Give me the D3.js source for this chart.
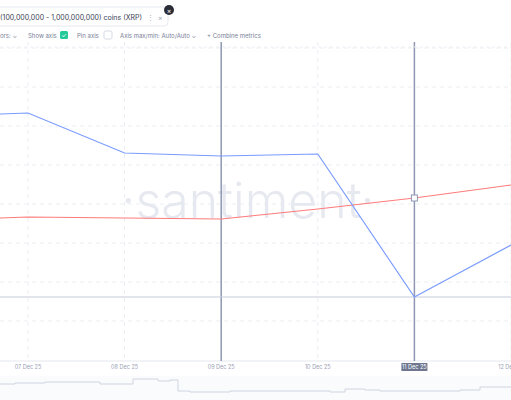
<!DOCTYPE html>
<html><head><meta charset="utf-8">
<script src="https://cdn.jsdelivr.net/npm/d3@7"></script>
<style>body{margin:0;background:#fff;font-family:Inter,"Noto Sans",sans-serif}</style>
</head><body><div id="chart"></div>
<script>
const dates = ["06 Dec 25","07 Dec 25","08 Dec 25","09 Dec 25","10 Dec 25","11 Dec 25","12 Dec 25"];
const dayIndex = [-0.29, 0, 1, 2, 3, 4, 5];
const blueValues = [246, 247, 207, 204, 206, 63, 115];
const redValues = [142, 143, 142, 141, 151, 162, 175];
const gridValues = [312, 273, 234, 195, 156, 117, 78, 39];
const miniX = [0, 15, 28, 45, 85, 100, 130, 133, 157, 158, 170, 178, 190, 230, 330, 345, 365, 380, 460, 480, 511];
const miniY = [7, 6, 6, 5, 5, 7, 7, 2, 2, 4, 3, 14, 15, 14, 15, 12, 13, 14, 13, 10, 10];

const W = 511, H = 400;
const svg = d3.select("#chart").append("svg").attr("width", W).attr("height", H);

const x = d3.scaleLinear().domain([0, 5]).range([28, 511]);
const y = d3.scaleLinear().domain([0, 320]).range([360, 40]);

// plot background
svg.append("rect").attr("x", 0).attr("y", 42).attr("width", W).attr("height", 320).attr("fill", "#fff");

// grid
svg.selectAll(".hg").data(gridValues).enter().append("line")
  .attr("x1", 0).attr("x2", W).attr("y1", d => y(d)).attr("y2", d => y(d))
  .attr("stroke", "#eceef3").attr("stroke-dasharray", "4,4");
svg.selectAll(".vg").data([0, 1, 3, 5]).enter().append("line")
  .attr("x1", d => x(d)).attr("x2", d => x(d)).attr("y1", 42).attr("y2", 360)
  .attr("stroke", "#eceef3").attr("stroke-dasharray", "4,4");

// watermark
svg.append("text").attr("x", 248).attr("y", 218).attr("text-anchor", "middle")
  .attr("font-size", 50).attr("fill", "#e6e9f0").attr("font-family", "Inter,sans-serif")
  .attr("font-weight", 300).text("·santiment·");

// x axis line
svg.append("line").attr("x1", 0).attr("x2", W).attr("y1", 361).attr("y2", 361).attr("stroke", "#e4e7ee");

// crosshair / markers
[2, 4].forEach(d => svg.append("line").attr("x1", x(d)).attr("x2", x(d)).attr("y1", 42).attr("y2", 361)
  .attr("stroke", "#8f97b3").attr("stroke-width", 1.5));
svg.append("line").attr("x1", 0).attr("x2", W).attr("y1", y(blueValues[5])).attr("y2", y(blueValues[5]))
  .attr("stroke", "#c7ccdc").attr("stroke-width", 1.2);

const line = vals => d3.line().x((d, i) => x(dayIndex[i])).y(d => y(d))(vals);
svg.append("path").attr("d", line(redValues)).attr("fill", "none").attr("stroke", "#ff7b7b").attr("stroke-width", 1.2);
svg.append("path").attr("d", line(blueValues)).attr("fill", "none").attr("stroke", "#7a9bff").attr("stroke-width", 1.2);

svg.append("rect").attr("x", x(4) - 3).attr("y", y(redValues[5]) - 3).attr("width", 6).attr("height", 6)
  .attr("fill", "#fff").attr("stroke", "#8f97b3");

// x tick labels
svg.selectAll(".tl").data(dates.slice(1)).enter().append("text")
  .attr("x", (d, i) => x(i)).attr("y", 369).attr("text-anchor", "middle")
  .attr("font-size", 5.5).attr("fill", "#9aa1b5").text(d => d);
svg.append("rect").attr("x", x(4) - 13).attr("y", 363).attr("width", 26).attr("height", 8).attr("fill", "#6e7690");
svg.append("text").attr("x", x(4)).attr("y", 369).attr("text-anchor", "middle")
  .attr("font-size", 5.5).attr("fill", "#fff").text(dates[5]);

// minimap
svg.append("rect").attr("x", 0).attr("y", 376).attr("width", W).attr("height", 24).attr("fill", "#fafbfc");
svg.append("path").attr("d", d3.line().curve(d3.curveStepAfter)
  .x((d, i) => miniX[i]).y(d => 377 + d)(miniY)).attr("fill", "none").attr("stroke", "#cfd4e2");

// header
svg.append("rect").attr("x", -5).attr("y", 7).attr("width", 173).attr("height", 19).attr("rx", 4)
  .attr("fill", "#fff").attr("stroke", "#e6e8ef");
svg.append("text").attr("x", 0).attr("y", 20).attr("font-size", 7).attr("fill", "#3d4356")
  .text("(100,000,000 - 1,000,000,000) coins (XRP)");
svg.append("text").attr("x", 147).attr("y", 20).attr("font-size", 7).attr("fill", "#a0a6b8").text("⋮");
svg.append("text").attr("x", 158).attr("y", 20).attr("font-size", 7).attr("fill", "#a0a6b8").text("×");
svg.append("circle").attr("cx", 169).attr("cy", 10).attr("r", 5).attr("fill", "#2a2d36");
svg.append("text").attr("x", 169).attr("y", 12.5).attr("text-anchor", "middle").attr("font-size", 7).attr("fill", "#fff").text("×");

// toolbar
const tb = svg.append("g").attr("font-size", 6).attr("fill", "#7a8197");
tb.append("text").attr("x", 0).attr("y", 38).text("ors:  ⌄");
tb.append("text").attr("x", 28).attr("y", 38).text("Show axis");
svg.append("rect").attr("x", 60).attr("y", 31).attr("width", 8).attr("height", 8).attr("rx", 1.5).attr("fill", "#26c99a");
svg.append("text").attr("x", 64).attr("y", 37.5).attr("text-anchor", "middle").attr("font-size", 6).attr("fill", "#fff").text("✓");
tb.append("text").attr("x", 77).attr("y", 38).text("Pin axis");
svg.append("rect").attr("x", 104).attr("y", 31).attr("width", 8).attr("height", 8).attr("rx", 1.5).attr("fill", "#fff").attr("stroke", "#d5d9e3");
tb.append("text").attr("x", 120).attr("y", 38).text("Axis max/min: Auto/Auto  ⌄");
tb.append("text").attr("x", 207).attr("y", 38).text("+  Combine metrics");
svg.append("line").attr("x1", 0).attr("x2", W).attr("y1", 47).attr("y2", 47).attr("stroke", "#eceef3").attr("stroke-dasharray", "3,3");
</script></body></html>
